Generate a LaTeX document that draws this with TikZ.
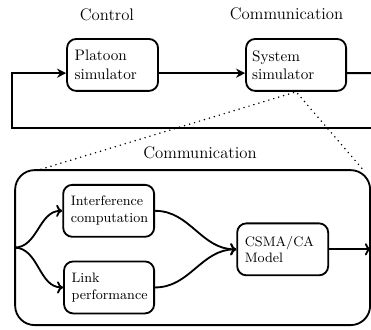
\documentclass[tikz,border=0pt]{standalone}
\usepackage{tikz}
\usetikzlibrary{arrows.meta}

\tikzset{
  blk/.style={draw, very thick, rounded corners=6pt, align=left,
              minimum height=1.2cm, inner xsep=5pt},
  lbl/.style={font=\fontsize{11}{13}\selectfont},
  flow/.style={very thick, -{Stealth[length=6pt,width=6pt]}},
  link/.style={very thick, -{To[length=4pt,width=8pt]}},
  zoomline/.style={line width=1.1pt, line cap=round, dash pattern=on 0pt off 3.4pt},
}

\begin{document}
\begin{tikzpicture}

            \useasboundingbox (0,0) rectangle (8.57,7.60);

            % top level
            \node[lbl] (ctrl) at (2.47,7.25) {Control};
            \node[lbl] (commtop) at (6.62,7.28) {Communication};

            \node[blk, text width=1.75cm] (plat) at (2.60,6.10) {Platoon\\simulator};
            \node[blk, inner xsep=4pt, text width=2.03cm] (sys) at (6.84,6.10) {System\\simulator};

            \coordinate (edge) at (8.57,5.91);
            \coordinate (back) at (8.57,4.64);
            \coordinate (corner) at (0.28,4.64);

            \draw[flow] ([yshift=-0.19cm]plat.east) -- ([yshift=-0.19cm]sys.west);
            \draw[very thick] ([yshift=-0.19cm]sys.east) -- (edge);
            \draw[flow] (back) -- (corner) |- ([yshift=-0.19cm]plat.west);

            % zoom into the system simulator
            \node[draw, very thick, rounded corners=0.45cm, minimum width=8.20cm,
                  minimum height=3.58cm] (comm) at (4.45,1.88) {};
            \node[lbl] (commlbl) at (4.62,4.07) {Communication};

            \draw[zoomline] ([xshift=0.62cm]comm.north west) -- (sys.south)
                -- ([xshift=-0.16cm,yshift=-0.04cm]comm.north east);

            \node[blk, font=\small, text width=1.75cm] (intf) at (2.51,2.73) {Interference\\computation};
            \node[blk, font=\small, text width=1.73cm] (lnk) at (2.52,0.96) {Link\\performance};
            \node[blk, font=\small, text width=1.75cm] (csma) at (6.53,1.84) {CSMA/CA\\Model};

            \coordinate (out) at (8.57,1.84);

            \draw[link] (comm.west) to[out=0,in=180] (intf.west);
            \draw[link] (comm.west) to[out=0,in=180] (lnk.west);
            \draw[link] (intf.east) to[out=0,in=180] (csma.west);
            \draw[link] (lnk.east) to[out=0,in=180] (csma.west);
            \draw[link] (csma.east) -- (out);

\end{tikzpicture}
\end{document}
